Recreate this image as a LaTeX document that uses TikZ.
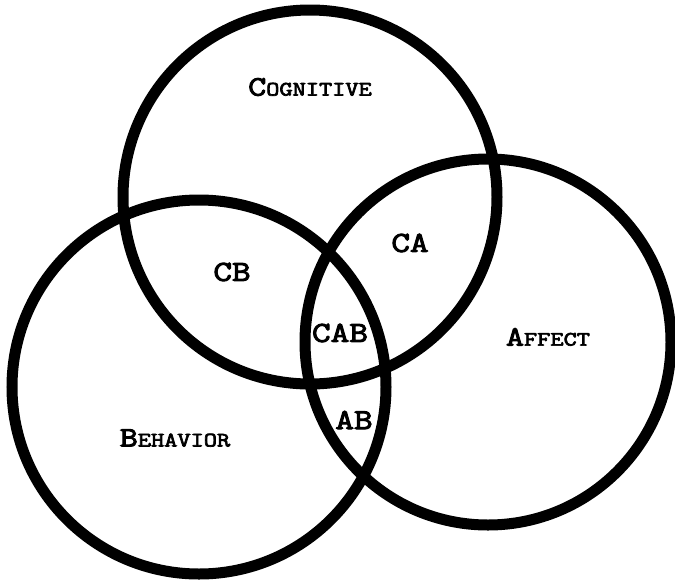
\documentclass[tikz,border=0pt]{standalone}
\usepackage{fontspec}
\setmonofont{Latin Modern Mono}[AutoFakeBold=3.5,FakeStretch=1.25]
\begin{document}
\begin{tikzpicture}[x=1pt,y=-1pt,
  ring/.style={draw=black,line width=11pt},
  lab/.style={font=\ttfamily\bfseries\fontsize{29}{29}\selectfont,inner sep=0pt},
]
\newcommand{\capsA}[2]{{\fontsize{28}{28}\selectfont #1}{\fontsize{20.5}{20.5}\selectfont #2}}
\useasboundingbox (0,0) rectangle (675,582);
% the three overlapping rings
\draw[ring] (310,197) circle[radius=187];
\draw[ring] (488,342) circle[radius=183];
\draw[ring] (199,387) circle[radius=187];
% ring names
\node[lab] (cog) at (310,87) {\capsA{C}{OGNITIVE}};
\node[lab] (aff) at (548,337) {\capsA{A}{FFECT}};
\node[lab] (beh) at (175,438) {\capsA{B}{EHAVIOR}};
% overlap labels
\node[lab] (cb) at (232,272) {CB};
\node[lab] (ca) at (410,243) {CA};
\node[lab] (cab) at (340,333) {CAB};
\node[lab] (ab) at (354,420) {AB};
\end{tikzpicture}
\end{document}
